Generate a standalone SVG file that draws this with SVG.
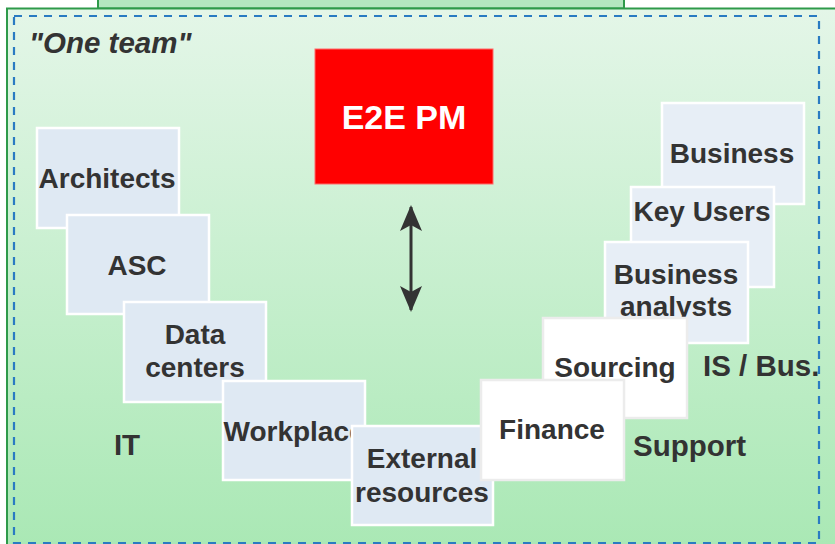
<svg xmlns="http://www.w3.org/2000/svg" width="835" height="544" viewBox="0 0 835 544">
<defs>
<linearGradient id="bg" x1="0" y1="0" x2="0" y2="1">
<stop offset="0" stop-color="#e4f6e8"/>
<stop offset="1" stop-color="#a9e8b4"/>
</linearGradient>
<marker id="head" viewBox="0 0 26 24" refX="24" refY="12" markerWidth="26" markerHeight="24" markerUnits="userSpaceOnUse" orient="auto-start-reverse">
<path d="M26 12 L0 1 L6 12 L0 23 Z" fill="#333"/>
</marker>
<style>
text{font-family:"Liberation Sans",Arial,sans-serif;font-weight:bold;fill:#333;}
.lb{font-size:28px;text-anchor:middle;}
.boxL{fill:#dfe9f3;stroke:#ffffff;stroke-width:2.5;}
.boxR{fill:#e7eef6;stroke:#ffffff;stroke-width:2.5;}
.boxW{fill:#ffffff;stroke:#ececec;stroke-width:2.5;}
.grp{font-size:29.5px;}
</style>
</defs>
<rect width="835" height="544" fill="#ffffff"/>
<rect id="top-box" x="98" y="-10" width="526" height="18.5" fill="#b4e7c0" stroke="#2e9a4a" stroke-width="2"/>
<rect id="outer" x="7" y="8.5" width="840" height="545" fill="url(#bg)" stroke="#2e9a4a" stroke-width="2"/>
<rect id="dashed" x="14" y="16" width="805" height="527" fill="none" stroke="#2a7bc2" stroke-width="2.2" stroke-dasharray="8 7"/>
<text x="29" y="53" style="font-size:29.5px;font-style:italic;">"One team"</text>

<g id="e2e-pm">
<rect x="315" y="49" width="178" height="135" fill="#ff0000" stroke="#ff6a6a" stroke-width="1"/>
<text x="404" y="129" class="lb" style="fill:#ffffff;font-size:34px;">E2E PM</text>
</g>

<g id="connectors">
<line x1="411" y1="207" x2="411" y2="310" stroke="#333" stroke-width="3" marker-start="url(#head)" marker-end="url(#head)"/>
</g>

<g id="architects"><rect x="37" y="128" width="142" height="100" class="boxL"/><text x="107" y="188" class="lb">Architects</text></g>
<g id="asc"><rect x="67" y="215" width="142" height="99" class="boxL"/><text x="137" y="275" class="lb">ASC</text></g>
<g id="data-centers"><rect x="124" y="302" width="142" height="100" class="boxL"/><text x="195" y="344" class="lb">Data</text><text x="195" y="377" class="lb">centers</text></g>
<g id="workplace"><rect x="223" y="381" width="142" height="99" class="boxL"/><text x="294" y="441" class="lb">Workplace</text></g>
<g id="external-resources"><rect x="352" y="426" width="141" height="99" class="boxL"/><text x="422" y="468" class="lb">External</text><text x="422" y="502" class="lb">resources</text></g>

<g id="business"><rect x="662" y="103" width="142" height="101" class="boxR"/><text x="732" y="163" class="lb">Business</text></g>
<g id="key-users"><rect x="631" y="187" width="143" height="100" class="boxR"/><text x="702" y="221" class="lb">Key Users</text></g>
<g id="business-analysts"><rect x="605" y="242" width="143" height="101" class="boxR"/><text x="676" y="284" class="lb">Business</text><text x="676" y="316" class="lb">analysts</text></g>
<g id="sourcing"><rect x="543" y="318" width="144" height="100" class="boxW"/><text x="615" y="377" class="lb">Sourcing</text></g>
<g id="finance"><rect x="481" y="380" width="143" height="100" class="boxW"/><text x="552" y="439" class="lb">Finance</text></g>

<text x="703" y="376" class="grp">IS / Bus.</text>
<text x="633" y="456" class="grp">Support</text>
<text x="127" y="455" class="lb" style="font-size:29.5px;">IT</text>
</svg>
